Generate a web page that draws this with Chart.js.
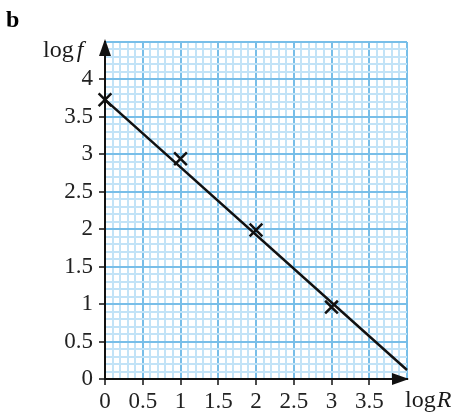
<!DOCTYPE html>
<html>
<head>
<meta charset="utf-8">
<script src="https://cdn.jsdelivr.net/npm/chart.js@4.4.0/dist/chart.umd.min.js"></script>
<style>
  html, body { margin: 0; padding: 0; background: #fff; }
</style>
</head>
<body>
<canvas id="graph" width="451" height="415"></canvas>
<script>
// data
const logR = [0, 1, 2, 3];
const logF = [3.73, 2.94, 1.99, 0.96];
const fitR = [0, 4.0];
const fitF = [3.73, 0.12];
const xTickLabels = ['0', '0.5', '1', '1.5', '2', '2.5', '3', '3.5'];
const yTickLabels = ['0', '0.5', '1', '1.5', '2', '2.5', '3', '3.5', '4'];

const SERIF = "'Liberation Serif', serif";
const MINOR = '#c2e3f7';
const MAJOR = '#78bee8';

function tenths(v) { return Math.round(v * 10); }
function labelFor(list) {
    return (v) => {
        const k = tenths(v);
        if (k % 5 !== 0) return '';
        const s = String(k / 10);
        return list.includes(s) ? s : '';
    };
}
function gridColour(c) {
    return tenths(c.tick.value) % 5 === 0 ? MAJOR : MINOR;
}
function tickColour(list) {
    return (c) => {
        const k = tenths(c.tick.value);
        return (k % 5 === 0 && list.includes(String(k / 10))) ? '#111' : 'rgba(0,0,0,0)';
    };
}

// arrows, axis names and the panel letter
const decorations = {
    id: 'decorations',
    afterDraw(chart) {
        const { ctx, chartArea: a } = chart;
        ctx.save();
        ctx.fillStyle = '#111';
        // up arrow on y axis
        ctx.beginPath();
        ctx.moveTo(a.left, a.top - 3);
        ctx.lineTo(a.left - 6, a.top + 14);
        ctx.lineTo(a.left + 6, a.top + 14);
        ctx.closePath();
        ctx.fill();
        // right arrow on x axis
        ctx.beginPath();
        ctx.moveTo(a.right + 2, a.bottom);
        ctx.lineTo(a.right - 15, a.bottom - 6);
        ctx.lineTo(a.right - 15, a.bottom + 6);
        ctx.closePath();
        ctx.fill();

        ctx.fillStyle = '#1a1a1a';
        ctx.textBaseline = 'alphabetic';
        ctx.textAlign = 'left';
        // log f
        ctx.font = '24px ' + SERIF;
        ctx.fillText('log', 43, 57);
        let w = ctx.measureText('log').width;
        ctx.font = 'italic 24px ' + SERIF;
        ctx.fillText('f', 43 + w + 3, 57);
        // log R
        ctx.font = '24px ' + SERIF;
        ctx.fillText('log', 405, 407);
        w = ctx.measureText('log').width;
        ctx.font = 'italic 24px ' + SERIF;
        ctx.fillText('R', 405 + w + 1, 407);
        // panel letter
        ctx.font = 'bold 24px ' + SERIF;
        ctx.fillStyle = '#000';
        ctx.fillText('b', 6, 27);
        ctx.restore();
    }
};

new Chart(document.getElementById('graph'), {
    type: 'scatter',
    data: {
        datasets: [
            {
                label: 'fit',
                data: fitR.map((x, i) => ({ x: x, y: fitF[i] })),
                showLine: true,
                borderColor: '#111',
                borderWidth: 2.5,
                pointRadius: 0,
                fill: false,
                clip: false
            },
            {
                label: 'points',
                data: logR.map((x, i) => ({ x: x, y: logF[i] })),
                showLine: false,
                pointStyle: 'crossRot',
                pointRadius: 9,
                borderColor: '#111',
                borderWidth: 2.5,
                clip: false
            }
        ]
    },
    options: {
        responsive: false,
        animation: false,
        layout: { padding: { top: 42, right: 44, left: 0, bottom: 0 } },
        plugins: {
            legend: { display: false },
            tooltip: { enabled: false }
        },
        scales: {
            x: {
                type: 'linear',
                min: 0,
                max: 4.0,
                afterFit: (s) => { s.height = 36; },
                border: { color: '#111', width: 2 },
                grid: {
                    color: gridColour,
                    lineWidth: 2,
                    tickColor: tickColour(xTickLabels),
                    tickLength: 6,
                    tickWidth: 1.5
                },
                ticks: {
                    stepSize: 0.1,
                    autoSkip: false,
                    maxRotation: 0,
                    padding: 3,
                    color: '#222',
                    font: { family: SERIF, size: 23 },
                    callback: labelFor(xTickLabels)
                }
            },
            y: {
                type: 'linear',
                min: 0,
                max: 4.5,
                afterFit: (s) => { s.width = 105; },
                border: { color: '#111', width: 2 },
                grid: {
                    color: gridColour,
                    lineWidth: 2,
                    tickColor: tickColour(yTickLabels),
                    tickLength: 6,
                    tickWidth: 1.5
                },
                ticks: {
                    stepSize: 0.1,
                    autoSkip: false,
                    padding: 6,
                    color: '#222',
                    font: { family: SERIF, size: 23 },
                    callback: labelFor(yTickLabels)
                }
            }
        }
    },
    plugins: [decorations]
});
</script>
</body>
</html>
